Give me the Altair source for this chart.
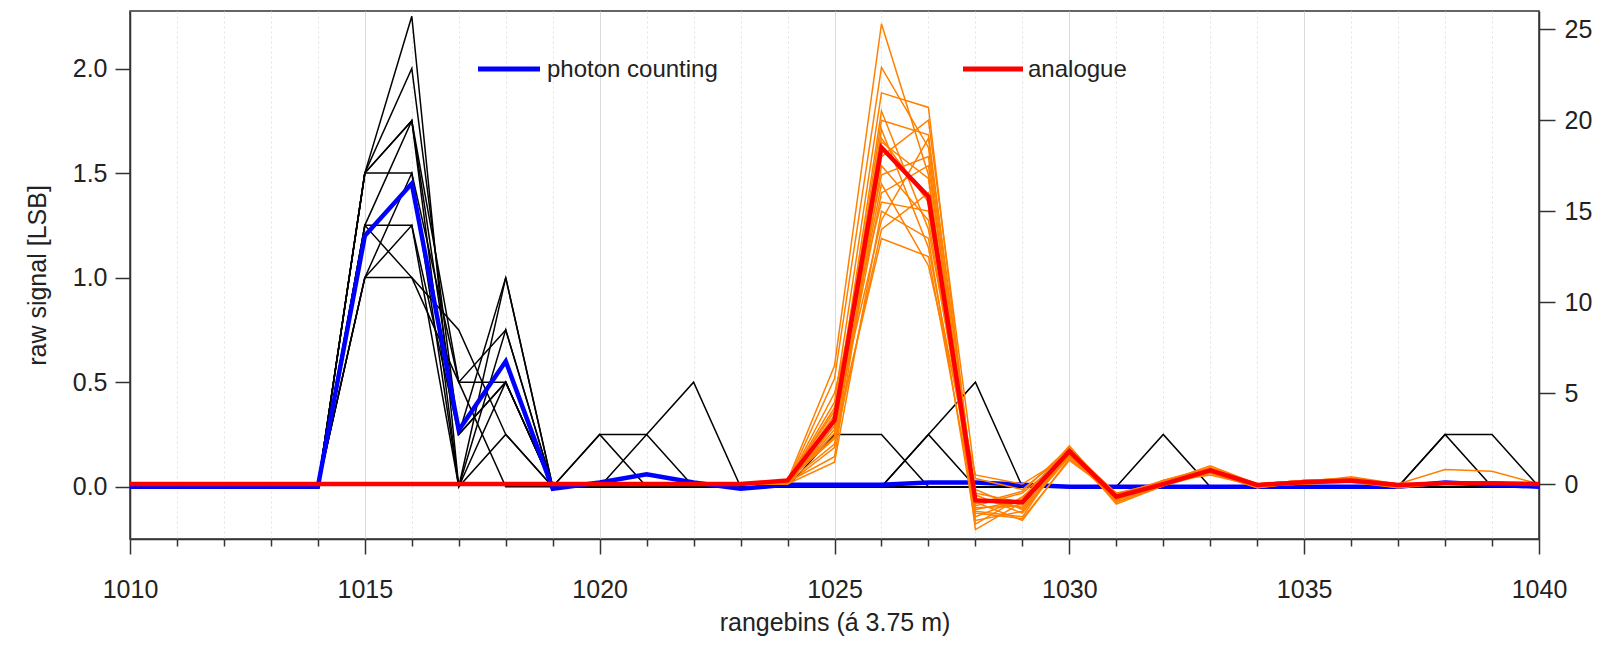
import altair as alt
import pandas as pd

# ---------------- data ----------------
bins = list(range(1010, 1041))

# photon counting: mean (blue) and single shots (black), left axis [LSB]
pc_mean = [0, 0, 0, 0, 0, 1.20, 1.45, 0.27, 0.60, -0.01,
           0.02, 0.06, 0.02, -0.01, 0.01, 0.01, 0.01, 0.02, 0.02, 0.01,
           0, 0, 0, 0, 0, 0, 0, 0, 0.02, 0.01, 0]

pc_b1 = [0, 0, 0, 0, 0, 1.5, 2.25, 0, 0.5, 0, 0.25, 0.25, 0, 0, 0, 0, 0, 0, 0, 0, 0, 0, 0, 0, 0, 0, 0, 0, 0, 0, 0]
pc_b2 = [0, 0, 0, 0, 0, 1.5, 2.0, 0.25, 1.0, 0, 0.25, 0, 0, 0, 0, 0, 0, 0, 0, 0, 0, 0, 0, 0, 0, 0, 0, 0, 0, 0, 0]
pc_b3 = [0, 0, 0, 0, 0, 1.25, 1.75, 0.5, 0.75, 0, 0, 0.25, 0.5, 0, 0, 0, 0, 0, 0, 0, 0, 0, 0, 0, 0, 0, 0, 0, 0, 0, 0]
pc_b4 = [0, 0, 0, 0, 0, 1.5, 1.75, 0.25, 0.5, 0, 0, 0, 0, 0, 0, 0.25, 0.25, 0, 0, 0, 0, 0, 0, 0, 0, 0, 0, 0, 0, 0, 0]
pc_b5 = [0, 0, 0, 0, 0, 1.5, 1.5, 0, 0.25, 0, 0, 0, 0, 0, 0, 0, 0, 0.25, 0, 0, 0, 0, 0, 0, 0, 0, 0, 0, 0, 0, 0]
pc_b6 = [0, 0, 0, 0, 0, 1.25, 1.0, 0.5, 0.5, 0, 0, 0, 0, 0, 0, 0, 0, 0.25, 0.5, 0, 0, 0, 0, 0, 0, 0, 0, 0, 0, 0, 0]
pc_b7 = [0, 0, 0, 0, 0, 1.0, 1.0, 0.75, 0.25, 0, 0, 0, 0, 0, 0, 0, 0, 0, 0, 0, 0, 0, 0.25, 0, 0, 0, 0, 0, 0, 0, 0]
pc_b8 = [0, 0, 0, 0, 0, 1.0, 1.25, 0, 1.0, 0, 0, 0, 0, 0, 0, 0, 0, 0, 0, 0, 0, 0, 0, 0, 0, 0, 0, 0, 0.25, 0.25, 0]
pc_b9 = [0, 0, 0, 0, 0, 1.25, 1.25, 0.25, 0.5, 0, 0, 0, 0, 0, 0, 0, 0, 0, 0, 0, 0, 0, 0, 0, 0, 0, 0, 0, 0.25, 0, 0]
pc_b10 = [0, 0, 0, 0, 0, 1.0, 1.5, 0.5, 0, 0, 0, 0, 0, 0, 0, 0, 0, 0, 0, 0, 0, 0, 0, 0, 0, 0, 0, 0, 0, 0, 0]
pc_b11 = [0, 0, 0, 0, 0, 1.5, 1.75, 0, 0.75, 0, 0, 0, 0, 0, 0, 0, 0, 0, 0, 0, 0, 0, 0, 0, 0, 0, 0, 0, 0, 0, 0]
pc_shots = [pc_b1, pc_b2, pc_b3, pc_b4, pc_b5, pc_b6, pc_b7, pc_b8, pc_b9, pc_b10, pc_b11]

# analogue: mean (red) and single shots (orange), right axis
an_mean = [0, 0, 0, 0, 0, 0, 0, 0, 0, 0, 0, 0, 0, 0, 0.2, 3.5, 18.5, 15.8, -0.9, -1.0,
           1.8, -0.7, 0.0, 0.75, -0.05, 0.1, 0.2, -0.05, 0.05, 0.05, 0]

an_bins = list(range(1023, 1041))
an_o1 = [0, 0.2, 6.5, 25.3, 17.0, -2.5, -1.0, 1.8, -0.8, 0.1, 0.8, -0.1, 0.1, 0.2, -0.1, 0.1, 0.0, 0]
an_o2 = [0, 0.1, 5.8, 22.9, 18.5, -1.5, -1.8, 2.0, -0.6, 0.0, 0.7, 0.0, 0.2, 0.3, 0.0, 0.8, 0.7, 0]
an_o3 = [0, 0.1, 4.5, 21.5, 20.7, -1.2, -0.5, 1.6, -0.9, 0.2, 0.9, -0.1, 0.0, 0.1, -0.2, 0.0, 0.1, 0]
an_o4 = [0, 0.0, 3.0, 20.0, 19.2, -0.8, -1.3, 1.7, -1.0, -0.1, 0.6, -0.2, 0.1, 0.2, -0.1, 0.1, 0.0, 0]
an_o5 = [0, 0.2, 2.5, 19.5, 13.0, -0.5, -1.0, 1.9, -0.5, 0.1, 0.8, 0.0, 0.2, 0.3, 0.0, 0.0, 0.1, 0]
an_o6 = [0, 0.1, 3.8, 18.8, 16.8, -2.0, -1.5, 1.5, -0.7, 0.0, 0.7, -0.1, 0.1, 0.2, -0.1, 0.1, 0.0, 0]
an_o7 = [0, 0.0, 2.0, 18.0, 20.0, 0.3, -0.3, 1.8, -0.9, 0.1, 1.0, 0.0, 0.2, 0.1, 0.0, 0.0, 0.0, 0]
an_o8 = [0, 0.1, 1.5, 17.5, 14.5, -1.0, -2.0, 1.4, -0.6, 0.0, 0.6, -0.1, 0.0, 0.2, -0.2, 0.1, 0.1, 0]
an_o9 = [0, 0.2, 4.0, 17.0, 18.0, -1.8, -0.8, 2.1, -0.8, 0.2, 0.8, 0.0, 0.1, 0.4, 0.0, 0.0, 0.0, 0]
an_o10 = [0, 0.0, 3.2, 16.5, 12.0, 0.5, 0.0, 1.6, -0.7, 0.1, 0.5, -0.1, 0.1, 0.1, -0.1, 0.1, 0.0, 0]
an_o11 = [0, 0.1, 2.8, 16.0, 17.5, -1.3, -1.2, 1.9, -1.1, -0.1, 0.9, 0.0, 0.2, 0.3, 0.0, 0.0, 0.1, 0]
an_o12 = [0, 0.1, 5.0, 15.5, 15.0, -0.6, -1.6, 1.7, -0.5, 0.0, 0.7, -0.2, 0.1, 0.2, -0.1, 0.1, 0.0, 0]
an_o13 = [0, 0.0, 1.2, 15.0, 13.5, -2.2, -0.7, 1.5, -0.8, 0.1, 0.6, 0.0, 0.0, 0.2, 0.0, 0.0, 0.0, 0]
an_o14 = [0, 0.2, 3.5, 14.5, 19.0, -0.9, -1.1, 1.8, -0.9, 0.0, 0.8, -0.1, 0.2, 0.3, -0.1, 0.1, 0.1, 0]
an_o15 = [0, 0.1, 2.2, 14.0, 16.0, -1.6, -1.9, 1.3, -0.6, 0.2, 0.9, 0.0, 0.1, 0.1, 0.0, 0.0, 0.0, 0]
an_o16 = [0, 0.1, 4.2, 19.0, 15.5, -1.1, -0.4, 2.0, -1.0, 0.0, 0.7, -0.1, 0.1, 0.2, -0.1, 0.1, 0.0, 0]
an_o17 = [0, 0.0, 3.6, 20.5, 14.0, -0.3, -1.4, 1.6, -0.7, 0.1, 0.8, 0.0, 0.0, 0.3, 0.0, 0.0, 0.1, 0]
an_o18 = [0, 0.2, 2.6, 13.5, 12.5, -1.4, -0.9, 1.9, -0.8, 0.0, 0.6, -0.1, 0.2, 0.2, -0.1, 0.1, 0.0, 0]
an_shots = [an_o1, an_o2, an_o3, an_o4, an_o5, an_o6, an_o7, an_o8, an_o9,
            an_o10, an_o11, an_o12, an_o13, an_o14, an_o15, an_o16, an_o17, an_o18]

x_ticks = bins
left_ticks = [0, 0.5, 1.0, 1.5, 2.0]
right_ticks = [0, 5, 10, 15, 20, 25]
legend_labels = ["photon counting", "analogue"]

# ---------------- tables ----------------
pc_shot_df = pd.DataFrame(
    [{"bin": b, "pc": v, "shot": i} for i, s in enumerate(pc_shots) for b, v in zip(bins, s)]
)
pc_mean_df = pd.DataFrame({"bin": bins, "pc": pc_mean})
an_shot_df = pd.DataFrame(
    [{"bin": b, "an": v, "shot": i} for i, s in enumerate(an_shots) for b, v in zip(an_bins, s)]
)
an_mean_df = pd.DataFrame({"bin": bins, "an": an_mean})
leg_pc_df = pd.DataFrame({"label": [legend_labels[0]]})
leg_an_df = pd.DataFrame({"label": [legend_labels[1]]})

FONT = "Liberation Sans"
major = "datum.value % 5 === 0"

X = alt.X(
    "bin:Q",
    scale=alt.Scale(domain=[1010, 1040], nice=False, zero=False),
    axis=alt.Axis(
        values=x_ticks,
        format="d",
        labelExpr=f"{major} ? datum.label : ''",
        labelAlign="center",
        labelFlush=False,
        labelOverlap=False,
        tickSize={"condition": {"test": major, "value": 15}, "value": 7},
        grid=True,
        gridColor={"condition": {"test": major, "value": "#d9d9d9"}, "value": "#e2e2e2"},
        gridDash={"condition": {"test": major, "value": []}, "value": [2, 3]},
        gridWidth=1,
        labelPadding=23,
        title="rangebins (á 3.75 m)",
        titlePadding=8,
    ),
)

Y_left = alt.Y(
    "pc:Q",
    scale=alt.Scale(domain=[-0.25, 2.275], nice=False, zero=False),
    axis=alt.Axis(values=left_ticks, format=".1f", tickSize=15, labelPadding=8,
                  grid=False, title="raw signal [LSB]", titlePadding=22),
)
Y_right = alt.Y(
    "an:Q",
    scale=alt.Scale(domain=[-3.02, 26.0], nice=False, zero=False),
    axis=alt.Axis(values=right_ticks, format="d", orient="right", tickSize=16,
                  labelPadding=9, grid=False, title=""),
)

black = alt.Chart(pc_shot_df).mark_line(color="#000000", strokeWidth=1.5).encode(
    x=X, y=Y_left, detail="shot:N"
)
blue = alt.Chart(pc_mean_df).mark_line(color="#0000ff", strokeWidth=4.5).encode(x=X, y=Y_left)
orange = alt.Chart(an_shot_df).mark_line(color="#ff8000", strokeWidth=1.5).encode(
    x=X, y=Y_right, detail="shot:N"
)
red = alt.Chart(an_mean_df).mark_line(color="#ff0000", strokeWidth=4.5).encode(x=X, y=Y_right)

leg_pc_line = alt.Chart(leg_pc_df).mark_rule(color="#0000ff", strokeWidth=5).encode(
    x=alt.value(348), x2=alt.value(410), y=alt.value(58)
)
leg_pc_text = alt.Chart(leg_pc_df).mark_text(
    align="left", baseline="middle", font=FONT, fontSize=24, color="#222222"
).encode(text="label:N", x=alt.value(417), y=alt.value(59))
leg_an_line = alt.Chart(leg_an_df).mark_rule(color="#ff0000", strokeWidth=5).encode(
    x=alt.value(833), x2=alt.value(893), y=alt.value(58)
)
leg_an_text = alt.Chart(leg_an_df).mark_text(
    align="left", baseline="middle", font=FONT, fontSize=24, color="#222222"
).encode(text="label:N", x=alt.value(898), y=alt.value(59))

left = alt.layer(black, blue)
right = alt.layer(orange, red)
legend = alt.layer(leg_pc_line, leg_pc_text, leg_an_line, leg_an_text)

chart = (
    alt.layer(left, right, legend)
    .resolve_scale(y="independent")
    .properties(
        width=1409,
        height=528,
        autosize=alt.AutoSizeParams(type="none"),
        padding={"left": 130, "top": 11, "right": 59, "bottom": 107},
        background="white",
    )
    .configure_view(stroke="#333333", strokeWidth=1.5)
    .configure_axis(
        domainColor="#333333",
        domainWidth=1.5,
        tickColor="#333333",
        tickWidth=1.5,
        labelFont=FONT,
        labelFontSize=25,
        labelColor="#222222",
        titleFont=FONT,
        titleFontSize=25,
        titleFontWeight="normal",
        titleColor="#222222",
    )
)

chart.save("out.html", embed_options={"renderer": "svg", "actions": False})
